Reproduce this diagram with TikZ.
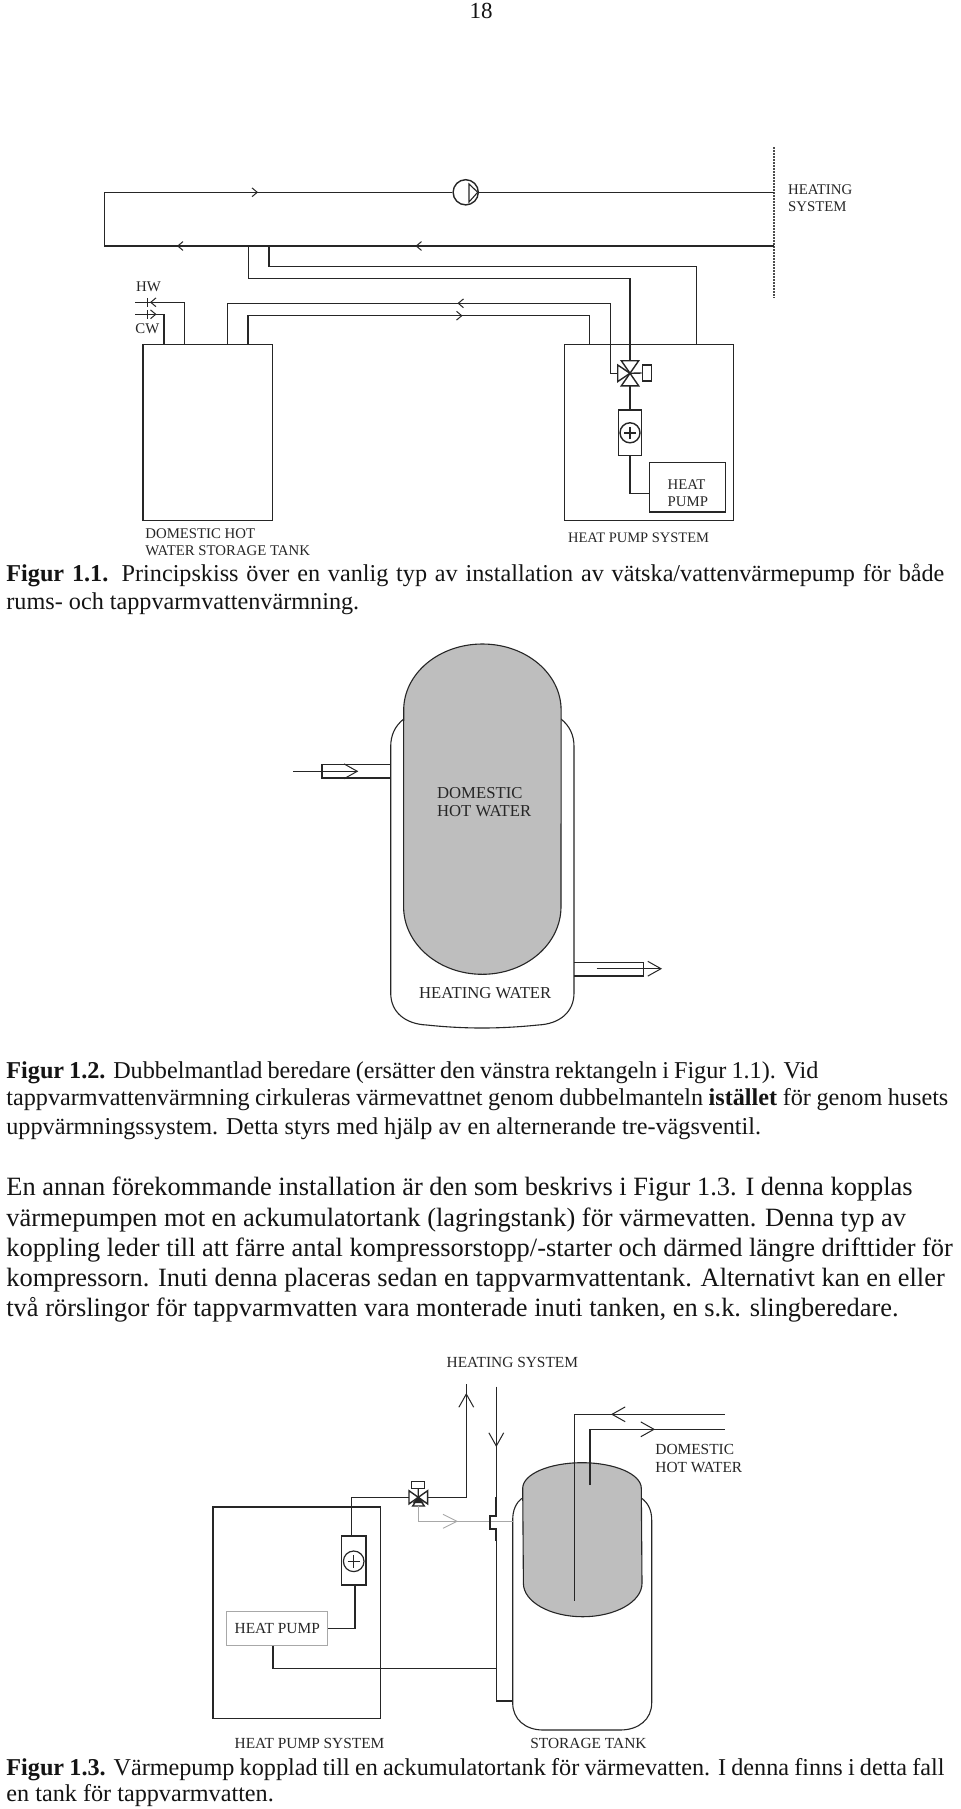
\documentclass[tikz,border=0pt]{standalone}
\usepackage{fontspec}
\setmainfont{Liberation Serif}
\usetikzlibrary{arrows.meta,calc,positioning}
\definecolor{tankGray}{HTML}{BEBEBE}
\definecolor{paleLine}{HTML}{A8A8A8}
\definecolor{inkDark}{HTML}{262626}
\newcommand{\fitline}[2]{\makebox[#1pt][s]{#2}}
\tikzset{
  pipe/.style={draw=inkDark,line width=0.7pt},
  thinpipe/.style={draw=inkDark,line width=0.55pt},
  palepipe/.style={draw=paleLine,line width=0.5pt},
  tag/.style={inner sep=0pt,align=left,anchor=west,text=inkDark,font=\fontsize{7.4}{8.6}\selectfont},
  tagmid/.style={tag,font=\fontsize{7.7}{8.8}\selectfont},
  tagbig/.style={tag,font=\fontsize{8.35}{9.1}\selectfont},
  capline/.style={inner sep=0pt,anchor=base west,text=black!92,font=\fontsize{12.1}{14}\selectfont},
  bodyline/.style={capline,font=\fontsize{13.2}{15}\selectfont},
  chev/.style={-{Straight Barb[length=2.6pt,width=4.4pt,line width=0.5pt]},draw=inkDark,line width=0.5pt},
  openhead/.style={-{Straight Barb[length=6.6pt,width=7.4pt,line width=0.5pt]},draw=inkDark,line width=0.55pt},
  palehead/.style={-{Straight Barb[length=7pt,width=7pt,line width=0.45pt]},palepipe},
}
\begin{document}
\begin{tikzpicture}[x=0.5pt,y=-0.5pt]
  \useasboundingbox (0,0) rectangle (960,1809);
  \fill[white] (0,0) rectangle (960,1809);
  \node[capline,anchor=base] (pageno) at (481,19) {\fontsize{11.5}{12}\selectfont 18};

  % Figur 1.1
  \coordinate (sysTop) at (774,147);
  \coordinate (sysBot) at (774,298);
  \coordinate (sysSup) at (774,192.3);
  \coordinate (sysRet) at (774,246);
  \draw[draw=black!70,line width=0.7pt,dash pattern=on 0.8pt off 0.7pt] (sysTop) -- (sysBot);
  \node[tag] (sysLabel) at (787.7,198.3) {HEATING\\SYSTEM};

  \node[draw=inkDark,circle,line width=0.7pt,minimum size=12.6pt,inner sep=0pt] (pump) at (465.7,192.3) {};
  \draw[thinpipe] (469,184) -- (469,202) -- (477.7,192.3) -- cycle;
  \draw[pipe] (sysSup) -- (pump.east);
  \draw[pipe] (pump.west) -- (104.3,192.3) -- (104.3,246) -- (sysRet);

  \node[draw=inkDark,line width=0.7pt,minimum width=64.8pt,minimum height=88.2pt,inner sep=0pt] (dhwTank) at (207.8,432.5) {};
  \node[draw=inkDark,line width=0.7pt,minimum width=84.5pt,minimum height=88.2pt,inner sep=0pt] (hpSys) at (648.8,432.5) {};
  \node[draw=inkDark,line width=0.7pt,minimum width=38.2pt,minimum height=24.6pt,inner sep=0pt,align=left] (hpBox) at (687.5,487.3) {};
  \node[tag] (hpLabel) at (667.3,493) {HEAT\\PUMP};
  \node[draw=inkDark,line width=0.7pt,minimum width=11.7pt,minimum height=22.8pt,inner sep=0pt] (heater) at (630,432.8) {};
  \node[draw=inkDark,circle,line width=0.7pt,minimum size=10pt,inner sep=0pt] (heaterDisc) at (heater.center) {};
  \draw[pipe] ($(heaterDisc.center)+(-6,0)$) -- ++(12,0);
  \draw[pipe] ($(heaterDisc.center)+(0,-6)$) -- ++(0,12);

  % shunt valve, heat pump side
  \coordinate (valveA) at (630,373.3);
  \draw[pipe] (valveA) ++(-8.7,-12.6) -- ++(17.4,0) -- ++(-17.4,25.2) -- ++(17.4,0) -- cycle;
  \draw[pipe] (valveA) -- ++(-12.3,-8.3) -- ++(0,16.6) -- cycle;
  \node[draw=inkDark,line width=0.7pt,minimum width=4.5pt,minimum height=8pt,inner sep=0pt] (actA) at (646.8,373) {};
  \draw[pipe] (valveA) -- (actA.west);

  \draw[pipe] (heater.south) -- (630,493.3) -- (hpBox.west |- 0,493.3);
  \draw[pipe] (heater.north) -- (630,386);
  \draw[pipe] (630,360.7) -- (630,278.7) -- (248.3,278.7) -- (248.3,246);
  \draw[pipe] (696.3,344.3) -- (696.3,266.3) -- (269,266.3) -- (269,246);
  \draw[pipe] (617.7,373.3) -- (610.3,373.3) -- (610.3,303.3) -- (227.7,303.3) -- (227.7,344.3);
  \draw[pipe] (589.3,344.3) -- (589.3,315.7) -- (248,315.7) -- (248,344.3);
  \draw[pipe] (184.7,344.3) -- (184.7,302.3) -- (135,302.3);
  \draw[pipe] (164,344.3) -- (164,314.3) -- (135,314.3);
  \draw[pipe] (147.7,297.8) -- ++(0,9);
  \draw[pipe] (147.7,309.8) -- ++(0,9);
  \foreach \cx/\cy/\sg in {257/192.3/1,178/246/-1,416.5/246/-1,458.5/303.3/-1,461.5/315.7/1,151/302.3/-1,155.5/314.3/1}{
    \draw[chev] (\cx-\sg,\cy) -- (\cx+\sg,\cy);
  }
  \node[tag] (hwLabel) at (135.7,287) {HW};
  \node[tag] (cwLabel) at (135,329) {CW};
  \node[tag] (dhwLabel) at (145,542.3) {DOMESTIC HOT\\WATER STORAGE TANK};
  \node[tag,font=\fontsize{7.25}{8.6}\selectfont] (hpSysLabel) at (567.7,538) {HEAT PUMP SYSTEM};

  \node[capline] (capA) at (6,581) {\fitline{469}{\textbf{Figur 1.1.} Principskiss över en vanlig typ av installation av vätska/vattenvärmepump för både}};
  \node[capline] (capAb) at (6,609.5) {rums- och tappvarmvattenvärmning.};

  % Figur 1.2
  \draw[thinpipe] (403.7,719) .. controls (395,726) and (390.7,735) .. (390.7,746.7) -- (390.7,993)
    .. controls (390.7,1012) and (405,1024) .. (426.7,1025) .. controls (450,1027.5) and (470,1028) .. (482,1028)
    .. controls (494,1028) and (514,1027.5) .. (538,1025) .. controls (559.7,1024) and (574,1012) .. (574,993)
    -- (574,746.7) .. controls (574,735) and (569.7,726) .. (561,719);
  \draw[thinpipe,fill=tankGray] (403.7,710) arc[start angle=180,end angle=0,x radius=39.35pt,y radius=33pt]
    -- (561,906.7) arc[start angle=0,end angle=-180,x radius=39.35pt,y radius=33.8pt] -- cycle;
  \draw[thinpipe] (390.7,764.3) -- (322,764.3) -- (322,778) -- (390.7,778);
  \draw[thinpipe] (574,962.3) -- (643.3,962.3) -- (643.3,976) -- (574,976);
  \coordinate (inA) at (293.3,771.3);
  \coordinate (inB) at (358.3,771.3);
  \coordinate (outA) at (596.7,968.7);
  \coordinate (outB) at (662,968.7);
  \draw[openhead] (inA) -- (inB);
  \draw[openhead] (outA) -- (outB);
  \node[tagbig] (dhwInner) at (436.7,801.7) {DOMESTIC\\HOT WATER};
  \node[tagbig] (heatWater) at (418.7,992.7) {HEATING WATER};

  \node[capline] (capB) at (6,1078.3) {\fitline{406}{\textbf{Figur 1.2.} Dubbelmantlad beredare (ersätter den vänstra rektangeln i Figur 1.1). Vid}};
  \node[capline] (capBb) at (6,1105.7) {\fitline{471}{tappvarmvattenvärmning cirkuleras värmevattnet genom dubbelmanteln \textbf{istället} för genom husets}};
  \node[capline] (capBc) at (6,1134) {uppvärmningssystem. Detta styrs med hjälp av en alternerande tre-vägsventil.};

  \node[bodyline] (paraA) at (6,1195.7) {En annan förekommande installation är den som beskrivs i Figur 1.3. I denna kopplas};
  \node[bodyline] (paraB) at (6,1226.3) {värmepumpen mot en ackumulatortank (lagringstank) för värmevatten. Denna typ av};
  \node[bodyline] (paraC) at (6,1256.7) {koppling leder till att färre antal kompressorstopp/-starter och därmed längre drifttider för};
  \node[bodyline] (paraD) at (6,1286.7) {kompressorn. Inuti denna placeras sedan en tappvarmvattentank. Alternativt kan en eller};
  \node[bodyline] (paraE) at (6,1316.7) {två rörslingor för tappvarmvatten vara monterade inuti tanken, en s.k. slingberedare.};

  % Figur 1.3
  \node[tagmid] (sysTop3) at (446.3,1362.7) {HEATING SYSTEM};
  \node[draw=inkDark,line width=0.7pt,minimum width=83.7pt,minimum height=105.9pt,inner sep=0pt] (hpSys3) at (296.6,1612.8) {};
  \node[draw=inkDark,line width=0.7pt,minimum width=12.3pt,minimum height=24.6pt,inner sep=0pt] (heater3) at (353.7,1560.4) {};
  \node[draw=inkDark,circle,line width=0.6pt,minimum size=10.3pt,inner sep=0pt] (heaterDisc3) at (353.7,1561.3) {};
  \draw[thinpipe] (347.5,1561.3) -- ++(12.4,0);
  \draw[thinpipe] (353.7,1555.1) -- ++(0,12.4);
  \node[draw=paleLine,line width=0.5pt,minimum width=50.5pt,minimum height=17pt,inner sep=0pt] (hpBox3) at (277.2,1628.7) {};
  \node[tagmid] (hpLabel3) at (234.3,1628) {HEAT PUMP};

  % outer tank first, inner tank over it
  \draw[thinpipe] (521.7,1498.3) .. controls (516,1503) and (512.7,1510) .. (512.7,1520) -- (512.7,1703)
    .. controls (512.7,1719) and (525,1730) .. (543.3,1730) -- (620,1730)
    .. controls (639,1730) and (651.7,1719) .. (651.7,1703) -- (651.7,1520)
    .. controls (651.7,1510) and (648,1503) .. (641.7,1498.3);
  \draw[thinpipe,fill=tankGray] (522.7,1488.3) arc[start angle=180,end angle=0,x radius=29.65pt,y radius=12.8pt]
    -- (642,1583.3) arc[start angle=0,end angle=-180,x radius=29.65pt,y radius=16.7pt] -- cycle;

  % shunt valve, tank side
  \coordinate (valveB) at (418.3,1497.3);
  \draw[pipe] (valveB) -- ++(-9.3,-6.6) -- ++(0,13.2) -- cycle;
  \draw[pipe] (valveB) -- ++(9.3,-6.6) -- ++(0,13.2) -- cycle;
  \draw[pipe,fill=inkDark] (valveB) -- ++(-4,5) -- ++(8,0) -- cycle;
  \draw[pipe] (valveB) -- (412.7,1506) -- (424.3,1506) -- cycle;
  \node[draw=inkDark,line width=0.6pt,minimum width=6.5pt,minimum height=3.3pt,inner sep=0pt] (actB) at (418.2,1485) {};
  \draw[thinpipe] (actB.south) -- (valveB);

  \draw[palepipe] (418.3,1506) -- (418.3,1521.3) -- (490,1521.3);
  \draw[palepipe] (490,1521.3) -- (512.7,1521.3);
  \draw[palehead] (440,1521.3) -- (458,1521.3);

  \coordinate (retTop) at (496.3,1386.7);
  \coordinate (retHead) at (496.3,1447);
  \coordinate (supTop) at (466.3,1384.3);
  \draw[pipe] (heater3.north -| 351.3,0) -- (351.3,1497.3) -- (409,1497.3);
  \draw[pipe] (427.7,1497.3) -- (466.3,1497.3) -- (supTop);
  \draw[openhead,line width=0.7pt] (466.3,1415) -- (466.3,1393);
  \draw[pipe] (retTop) -- (retHead);
  \draw[openhead,line width=0.7pt] (496.3,1430) -- (retHead);
  \draw[pipe] (retHead) -- (496.3,1497);
  \draw[pipe,line width=0.9pt] (496.3,1497) -- (496.3,1515.7) -- (490,1515.7) -- (490,1529) -- (496.3,1529) -- (496.3,1541);
  \draw[pipe] (496.3,1541) -- (496.3,1701) -- (512.7,1701);
  \draw[pipe] (355,1585) -- (355,1628.3) -- (hpBox3.east |- 0,1628.3);
  \draw[pipe] (273,1645.7) -- (273,1668.3) -- (496.3,1668.3);

  % domestic water coils
  \draw[pipe] (574.3,1600.7) -- (574.3,1414.3) -- (725,1414.3);
  \draw[pipe] (590,1485) -- (590,1429.3) -- (725,1429.3);
  \draw[openhead,line width=0.7pt] (630,1414.3) -- (611,1414.3);
  \draw[openhead,line width=0.7pt] (635,1429.3) -- (655,1429.3);
  \node[tagmid] (dhwLabel3) at (655,1458.7) {DOMESTIC\\HOT WATER};
  \node[tagmid] (hpSysLabel3) at (234.3,1743.3) {HEAT PUMP SYSTEM};
  \node[tagmid] (storeLabel) at (530,1743.3) {STORAGE TANK};

  \node[capline] (capC) at (6,1775) {\fitline{469}{\textbf{Figur 1.3.} Värmepump kopplad till en ackumulatortank för värmevatten. I denna finns i detta fall}};
  \node[capline] (capCb) at (6,1801) {en tank för tappvarmvatten.};
\end{tikzpicture}
\end{document}
